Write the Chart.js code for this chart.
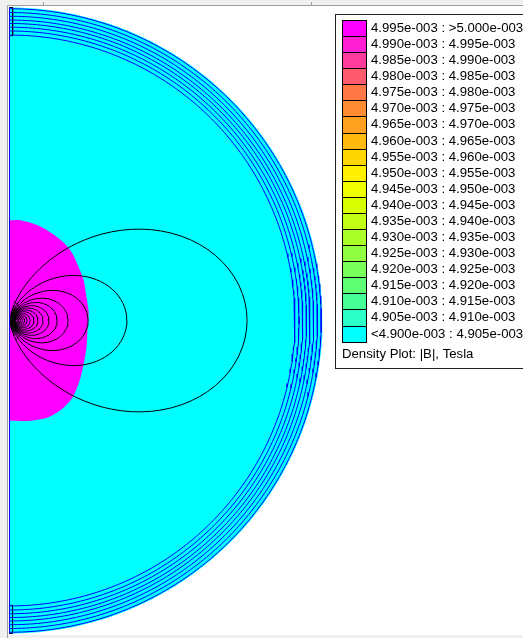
<!DOCTYPE html>
<html>
<head>
<meta charset="utf-8">
<script src="https://cdn.jsdelivr.net/npm/chart.js@4.4.1/dist/chart.umd.min.js"></script>
<style>
  html, body { margin: 0; padding: 0; background: #f0f0f0; overflow: hidden; }
  canvas { display: block; }
</style>
</head>
<body>
<canvas id="chart" width="523" height="638"></canvas>
<script>
// |B| density plot, axisymmetric half plane (r to the right, z up)

// legend bins: low : high
const binLow = ['4.995e-003', '4.990e-003', '4.985e-003', '4.980e-003', '4.975e-003',
  '4.970e-003', '4.965e-003', '4.960e-003', '4.955e-003', '4.950e-003',
  '4.945e-003', '4.940e-003', '4.935e-003', '4.930e-003', '4.925e-003',
  '4.920e-003', '4.915e-003', '4.910e-003', '4.905e-003', '<4.900e-003'];
const binHigh = ['>5.000e-003', '4.995e-003', '4.990e-003', '4.985e-003', '4.980e-003',
  '4.975e-003', '4.970e-003', '4.965e-003', '4.960e-003', '4.955e-003',
  '4.950e-003', '4.945e-003', '4.940e-003', '4.935e-003', '4.930e-003',
  '4.925e-003', '4.920e-003', '4.915e-003', '4.910e-003', '4.905e-003'];
const plotTitle = 'Density Plot: |B|, Tesla';

// palette, top bin first
const binColors = ['#ff00ff', '#ff1ed2', '#ff3c9b', '#ff5a6e', '#ff7846',
  '#ff8c32', '#ffa01e', '#ffb90f', '#ffd700', '#fff000',
  '#f0ff00', '#d7ff00', '#c3ff14', '#aaff28', '#91ff41',
  '#78ff5a', '#5fff73', '#46ff96', '#2dffc8', '#00ffff'];

// geometry, model units
const outerRadius = 100;
const shellRadii = [99.6, 98.4, 97.2, 96.0, 94.9, 93.7, 92.5, 91.2];
const capHeight = 9;      // black blocks at both ends of the axis
const capWidth = 1;

// high |B| region boundary (r, z)
const hotR = [0, 3.5, 9.0, 13.1, 17.3, 20.1, 22.1, 23.7, 24.6, 25.3, 24.9, 24.6, 23.7, 22.4, 20.1, 17.0, 12.2, 6.7, 0];
const hotZ = [32.0, 32.0, 30.4, 28.1, 24.9, 21.4, 17.0, 12.8, 7.4, 2.3, -3.2, -8.6, -13.8, -19.2, -24.6, -28.1, -31.0, -32.0, -32.0];

// flux lines: coil radius and the r where each line crosses z = 0 on the outside
const coilR = 2.0;
const fluxCross = [75.9, 37.5, 25.1, 18.7, 15.2, 12.6, 10.7, 9.1, 7.8, 6.6, 5.6, 4.8, 4.1, 3.5, 3.0, 2.6];

// page layout
const W = 523, H = 638;
const pxPerUnit = 3.13;
const axisPx = 9.5, centerPx = 320.5;

function arc(rad, n) {
  const pts = [];
  for (let i = 0; i <= n; i++) {
    const t = Math.PI / 2 - Math.PI * i / n;
    pts.push({ x: rad * Math.cos(t), y: rad * Math.sin(t) });
  }
  return pts;
}

// flux function of a single current loop
function flux(r, z) {
  if (r <= 0) return 0;
  const m = 4 * coilR * r / ((coilR + r) * (coilR + r) + z * z);
  let f;
  if (m < 1e-4) {
    f = Math.PI * m * m / 16 * (1 + 0.75 * m);
  } else {
    let a = 1, b = Math.sqrt(1 - m), sum = 0.5 * m, p = 0.5;
    for (let i = 0; i < 30; i++) {
      const c = (a - b) / 2;
      const an = (a + b) / 2;
      b = Math.sqrt(a * b);
      a = an;
      p *= 2;
      sum += p * c * c;
      if (c < 1e-15) break;
    }
    const K = Math.PI / (2 * a);
    const E = K * (1 - sum);
    f = (2 - m) * K - 2 * E;
  }
  return Math.sqrt(coilR * r / m) * f;
}

function fluxLine(rCross, n) {
  const level = flux(rCross, 0);
  const pts = [];
  for (let i = 0; i <= n; i++) {
    const ph = 2 * Math.PI * i / n;
    const c = Math.cos(ph), s = Math.sin(ph);
    let lo = 1e-4, hi = c < -1e-9 ? Math.min(coilR / -c, 600) : 600;
    for (let k = 0; k < 50; k++) {
      const mid = (lo + hi) / 2;
      if (flux(coilR + mid * c, mid * s) > level) lo = mid; else hi = mid;
    }
    const rho = (lo + hi) / 2;
    pts.push({ x: coilR + rho * c, y: rho * s });
  }
  return pts;
}

const line = (data, color, order) => ({
  data, showLine: true, borderColor: color, borderWidth: 1,
  pointRadius: 0, fill: false, order
});

const domain = arc(outerRadius, 240);
domain.push({ x: 0, y: outerRadius });

const hot = hotR.map((r, i) => ({ x: r, y: hotZ[i] }));

const capTop = [
  { x: 0, y: outerRadius }, { x: capWidth, y: outerRadius },
  { x: capWidth, y: outerRadius - capHeight }, { x: 0, y: outerRadius - capHeight }, { x: 0, y: outerRadius }
];
const capBottom = capTop.map(p => ({ x: p.x, y: -p.y }));

const datasets = [
  { data: domain, showLine: true, borderWidth: 0, pointRadius: 0,
    fill: 'shape', backgroundColor: '#00ffff', order: 100 },
  { data: hot, showLine: true, borderWidth: 0, pointRadius: 0, tension: 0.3,
    fill: 'shape', backgroundColor: '#ff00ff', order: 90 },
  line(capTop, '#000000', 50),
  line(capBottom, '#000000', 50),
  line([{ x: 0, y: outerRadius }, { x: 0, y: -outerRadius }], '#0000ff', 40),
  ...shellRadii.map(r => line(arc(r, 240), '#0000ff', 40)),
  ...fluxCross.map(rc => line(fluxLine(rc, 160), '#000000', 10))
];

const framePlugin = {
  id: 'frame',
  beforeDraw(chart) {
    const ctx = chart.ctx;
    ctx.save();
    ctx.fillStyle = '#f0f0f0';
    ctx.fillRect(0, 0, W, H);
    ctx.fillStyle = '#ffffff';
    ctx.fillRect(8, 6, W - 8, 629);
    ctx.strokeStyle = '#a0a0a0';
    ctx.lineWidth = 1;
    ctx.beginPath();
    ctx.moveTo(7.5, 5); ctx.lineTo(7.5, H);
    ctx.moveTo(7, 5.5); ctx.lineTo(W, 5.5);
    ctx.moveTo(43.5, 2); ctx.lineTo(43.5, 5);
    ctx.moveTo(311.5, 2); ctx.lineTo(311.5, 5);
    ctx.stroke();
    ctx.restore();
  }
};

const legendPlugin = {
  id: 'densityLegend',
  afterDraw(chart) {
    const ctx = chart.ctx;
    const x0 = 335, y0 = 14, y1 = 368;
    ctx.save();
    ctx.fillStyle = '#ffffff';
    ctx.fillRect(x0, y0, W - x0, y1 - y0);
    ctx.lineWidth = 1;
    ctx.strokeStyle = '#202020';
    ctx.strokeRect(x0 + 0.5, y0 + 0.5, 400, y1 - y0);
    ctx.font = '13.2px "Liberation Sans", Arial, sans-serif';
    ctx.textBaseline = 'middle';
    const top = i => Math.round(20 + i * 16.08);
    binLow.forEach((lo, i) => {
      const y = top(i), h = top(i + 1) - y;
      ctx.fillStyle = binColors[i];
      ctx.fillRect(342, y, 24, h);
      ctx.strokeStyle = '#000000';
      ctx.strokeRect(342.5, y + 0.5, 24, h);
      ctx.fillStyle = '#000000';
      ctx.fillText(lo + ' : ' + binHigh[i], 371, y + 8.5);
    });
    ctx.fillText(plotTitle, 342, 354);
    ctx.restore();
  }
};

new Chart(document.getElementById('chart'), {
  type: 'scatter',
  data: { datasets },
  options: {
    responsive: false,
    animation: false,
    devicePixelRatio: 1,
    layout: { padding: 0 },
    plugins: { legend: { display: false }, tooltip: { enabled: false } },
    events: [],
    scales: {
      x: { type: 'linear', display: false,
        min: -axisPx / pxPerUnit, max: (W - axisPx) / pxPerUnit },
      y: { type: 'linear', display: false,
        min: -(H - centerPx) / pxPerUnit, max: centerPx / pxPerUnit }
    }
  },
  plugins: [framePlugin, legendPlugin]
});
</script>
</body>
</html>
